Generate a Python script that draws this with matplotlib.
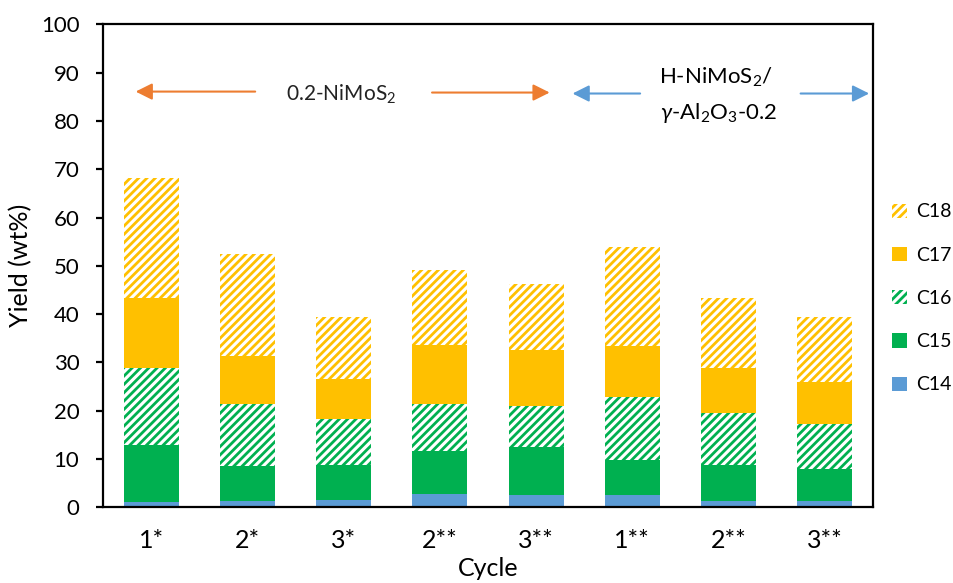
import numpy as np
import matplotlib.pyplot as plt
from matplotlib.patches import Patch

plt.rcParams['font.family'] = ['Lato', 'DejaVu Sans']
plt.rcParams['mathtext.fontset'] = 'custom'
plt.rcParams['mathtext.rm'] = 'Lato'
plt.rcParams['mathtext.it'] = 'Lato:italic'
plt.rcParams['hatch.linewidth'] = 2.0

cycles = ['1*', '2*', '3*', '2**', '3**', '1**', '2**', '3**']
c14 = [1.1, 1.2, 1.4, 2.7, 2.6, 2.6, 1.3, 1.3]
c15 = [11.7, 7.3, 7.4, 9.0, 9.9, 7.1, 7.5, 6.6]
c16 = [16.1, 12.9, 9.4, 9.7, 8.5, 13.1, 10.7, 9.3]
c17 = [14.4, 9.9, 8.4, 12.1, 11.5, 10.6, 9.3, 8.8]
c18 = [24.8, 21.2, 12.9, 15.7, 13.8, 20.6, 14.5, 13.3]

blue = '#5B9BD5'
green = '#00B050'
gold = '#FFC000'
orange = '#ED7D31'

fig = plt.figure(figsize=(9.54, 5.83), dpi=100)
ax = fig.add_axes([0.108, 0.130, 0.807, 0.828])

x = np.arange(len(cycles))
w = 0.57
bottom = np.zeros(len(cycles))
series = [
    ('C14', c14, blue, None),
    ('C15', c15, green, None),
    ('C16', c16, green, '////'),
    ('C17', c17, gold, None),
    ('C18', c18, gold, '////'),
]
handles = []
for name, vals, col, hatch in series:
    vals = np.array(vals)
    if hatch:
        ax.bar(x, vals, w, bottom=bottom, facecolor='white', edgecolor=col,
               hatch=hatch, linewidth=0)
        handles.append(Patch(facecolor='white', edgecolor=col, hatch=hatch,
                             linewidth=0, label=name))
    else:
        ax.bar(x, vals, w, bottom=bottom, color=col, linewidth=0)
        handles.append(Patch(facecolor=col, linewidth=0, label=name))
    bottom += vals

ax.set_xlim(-0.5, 7.5)
ax.set_ylim(0, 100)
ax.set_yticks(np.arange(0, 101, 10))
ax.set_xticks(x)
ax.set_xticklabels(cycles, fontsize=18)
ax.tick_params(axis='x', length=0, pad=16)
ax.tick_params(axis='y', labelsize=16, length=5, width=1.6, pad=12)
for s in ax.spines.values():
    s.set_linewidth(1.6)
ax.set_ylabel('Yield (wt%)', fontsize=18, labelpad=6)
ax.set_xlabel('Cycle', fontsize=18, labelpad=3)

ap_o = dict(arrowstyle='-|>,head_length=1.0,head_width=0.5', color=orange, lw=1.5)
ap_b = dict(arrowstyle='-|>,head_length=1.0,head_width=0.5', color=blue, lw=1.5)
ax.annotate('', xy=(-0.19, 86.1), xytext=(1.11, 86.1), arrowprops=ap_o)
ax.annotate('', xy=(4.17, 85.9), xytext=(2.89, 85.9), arrowprops=ap_o)
ax.annotate('', xy=(4.35, 85.7), xytext=(5.11, 85.7), arrowprops=ap_b)
ax.annotate('', xy=(7.49, 85.7), xytext=(6.72, 85.7), arrowprops=ap_b)
ax.text(1.97, 85.6, '0.2-NiMoS$_2$', fontsize=15,
        color='#222222', ha='center', va='center')
ax.text(5.87, 89.0, 'H-NiMoS$_2$/', fontsize=16, ha='center', va='center')
ax.text(5.90, 81.6, '$\\mathit{\\gamma}$-Al$_2$O$_3$-0.2', fontsize=16,
        ha='center', va='center')

fig.legend(handles=handles[::-1], loc='center left',
           bbox_to_anchor=(0.927, 0.488), frameon=False, fontsize=14,
           handlelength=0.75, handleheight=0.75, handletextpad=0.5,
           labelspacing=1.35, borderaxespad=0)

fig.savefig('out.png', dpi=100)
